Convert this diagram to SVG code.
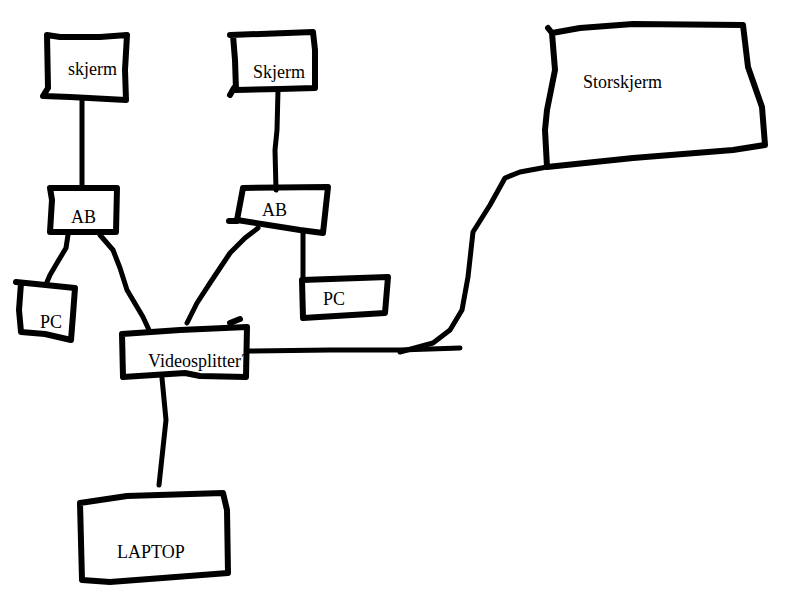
<svg xmlns="http://www.w3.org/2000/svg" width="800" height="600" viewBox="0 0 800 600">
<style>
.b{fill:none;stroke:#000;stroke-width:6;stroke-linejoin:round;stroke-linecap:round}
.c{fill:none;stroke:#000;stroke-width:5;stroke-linejoin:round;stroke-linecap:round}
text{font-family:"Liberation Serif","Times New Roman",serif;font-size:18px;fill:#000}
</style>
<rect width="800" height="600" fill="#fff"/>
<g id="connectors">
<path class="c" d="M82,100 L82,188"/>
<path class="c" d="M278,90 L277,130 L275,150 L276,190"/>
<path class="c" d="M68,235 L66,248 L57,263 L50,275 L47,282"/>
<path class="c" d="M100,235 L113,250 L120,268 L127,290 L143,317 L149,330"/>
<path class="c" d="M258,228 L245,238 L230,253 L220,268 L210,283 L197,303 L187,323"/>
<path class="c" d="M303,233 L303,277"/>
<path class="c" d="M248,351 L330,350 L400,350 L460,348"/>
<path class="c" d="M400,352 L433,343 L450,330 L462,310 L468,277 L473,232 L490,205 L505,178 L520,172 L547,167"/>
<path class="c" d="M162,378 L166,420 L159,485"/>
</g>
<g id="skjerm1">
<path class="b" d="M47,35 L60,37 L100,37 L127,35 L125,70 L126,100 L70,97 L43,96 L48,88 L47,35"/>
<text x="68" y="75">skjerm</text>
</g>
<g id="skjerm2">
<path class="b" d="M230,35 L313,32 L315,50 L315,88 L280,89 L236,90 L235,60 L233,35"/>
<path class="b" d="M234,88 L230,95"/>
<text x="253" y="78">Skjerm</text>
</g>
<g id="ab1">
<path class="b" d="M50,188 L117,188 L116,232 L50,232 L52,200 L50,188"/>
<text x="71" y="223">AB</text>
</g>
<g id="ab2">
<path class="b" d="M243,188 L328,187 L323,233 L300,230 L237,220 L243,188"/>
<path class="b" d="M229,221 L237,221"/>
<text x="262" y="216">AB</text>
</g>
<g id="pc1">
<path class="b" d="M16,282 L75,288 L73,315 L71,340 L45,334 L21,332 L19,310 L21,283"/>
<text x="40" y="328">PC</text>
</g>
<g id="pc2">
<path class="b" d="M302,280 L388,277 L385,313 L303,318 L302,280"/>
<text x="323" y="305">PC</text>
</g>
<g id="videosplitter">
<text x="148" y="367">Videosplitter?</text>
<path class="b" d="M122,334 L180,330 L247,327 L246,377 L200,376 L185,373 L123,377 L122,334"/>
<path class="b" d="M230,323 L240,319"/>
</g>
<g id="storskjerm">
<path class="b" d="M548,28 L552,33 L580,28 L633,24 L743,25 L748,67 L762,107 L765,145 L733,150 L633,158 L547,167 L545,130 L547,110 L553,80 L555,70 L552,33"/>
<text x="583" y="88">Storskjerm</text>
</g>
<g id="laptop">
<path class="b" d="M80,503 L127,496 L223,493 L227,510 L228,573 L110,582 L82,580 L80,503"/>
<text x="117" y="558">LAPTOP</text>
</g>
</svg>
